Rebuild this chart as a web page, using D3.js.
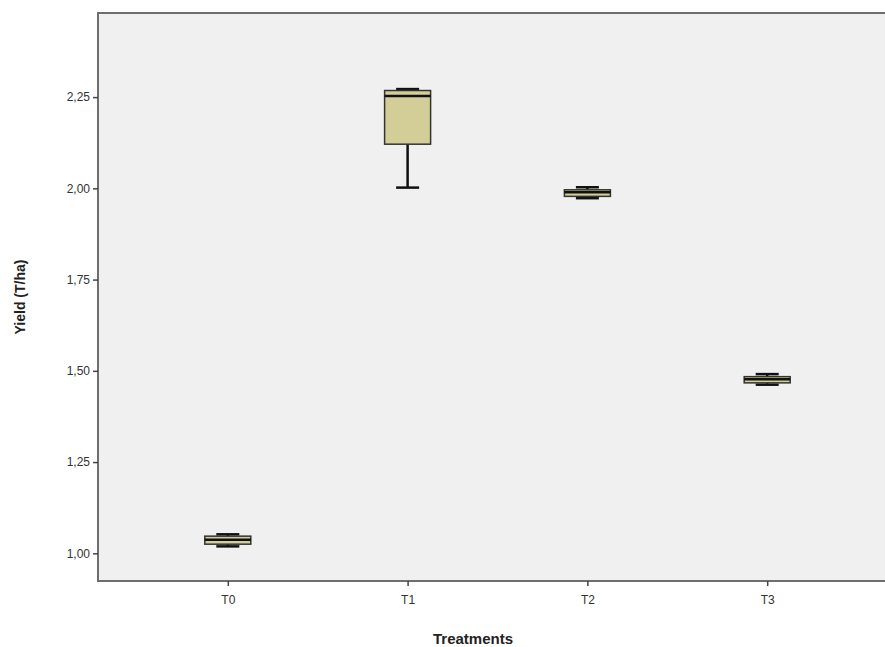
<!DOCTYPE html>
<html><head><meta charset="utf-8">
<script src="https://cdn.jsdelivr.net/npm/d3@7"></script>
<style>body{margin:0;background:#fff}svg{display:block}</style>
</head><body>
<script>
const categories = ["T0","T1","T2","T3"];
const whiskerLow  = [1.019, 2.002, 1.973, 1.462];
const q1          = [1.025, 2.121, 1.978, 1.467];
const median      = [1.037, 2.253, 1.989, 1.477];
const q3          = [1.047, 2.268, 1.996, 1.484];
const whiskerHigh = [1.052, 2.272, 2.003, 1.491];
const yTicks = [1.00, 1.25, 1.50, 1.75, 2.00, 2.25];

const W = 885, H = 647;
const pLeft = 98, pTop = 13, pBottom = 581, pRight = 897;
const svg = d3.select("body").append("svg").attr("width", W).attr("height", H);

const y = d3.scaleLinear().domain([1.00, 2.25]).range([553.3, 97.1]);
const x = d3.scalePoint().domain(categories).range([pLeft, pRight]).padding(0.722);

svg.append("rect").attr("x", pLeft).attr("y", pTop).attr("width", pRight - pLeft).attr("height", pBottom - pTop)
  .attr("fill", "#f0f0f0").attr("stroke", "#6e6e6e").attr("stroke-width", 2);

const fmt = v => d3.format(".2f")(v).replace(".", ",");
const yAxis = svg.append("g").attr("transform", `translate(${pLeft},0)`)
  .call(d3.axisLeft(y).tickValues(yTicks).tickFormat(fmt).tickSize(5).tickPadding(3));
yAxis.select(".domain").remove();
yAxis.selectAll("line").attr("stroke", "#444").attr("stroke-width", 1.5);
yAxis.selectAll("text").attr("font-family", "Arial, 'Liberation Sans', sans-serif").attr("font-size", 12).attr("fill", "#333");

const xAxis = svg.append("g").attr("transform", `translate(0,${pBottom})`)
  .call(d3.axisBottom(x).tickSize(5).tickPadding(9));
xAxis.select(".domain").remove();
xAxis.selectAll("line").attr("stroke", "#444").attr("stroke-width", 1.5);
xAxis.selectAll("text").attr("font-family", "Arial, 'Liberation Sans', sans-serif").attr("font-size", 12).attr("fill", "#333");

const boxW = 46, capW = 23;
const g = svg.append("g");
categories.forEach((c, i) => {
  const cx = x(c);
  g.append("line").attr("x1", cx).attr("x2", cx).attr("y1", y(whiskerLow[i])).attr("y2", y(q1[i]))
    .attr("stroke", "#111").attr("stroke-width", 2.5);
  g.append("line").attr("x1", cx).attr("x2", cx).attr("y1", y(whiskerHigh[i])).attr("y2", y(q3[i]))
    .attr("stroke", "#111").attr("stroke-width", 2.5);
  [whiskerLow[i], whiskerHigh[i]].forEach(v => {
    g.append("line").attr("x1", cx - capW / 2).attr("x2", cx + capW / 2).attr("y1", y(v)).attr("y2", y(v))
      .attr("stroke", "#111").attr("stroke-width", 2.5);
  });
  g.append("rect").attr("x", cx - boxW / 2).attr("y", y(q3[i])).attr("width", boxW)
    .attr("height", y(q1[i]) - y(q3[i])).attr("fill", "#d3ce97").attr("stroke", "#333").attr("stroke-width", 1.5);
  g.append("line").attr("x1", cx - boxW / 2).attr("x2", cx + boxW / 2).attr("y1", y(median[i])).attr("y2", y(median[i]))
    .attr("stroke", "#111").attr("stroke-width", 2.5);
});

svg.append("text").attr("x", 473).attr("y", 644).attr("text-anchor", "middle")
  .attr("font-family", "Arial, 'Liberation Sans', sans-serif").attr("font-size", 15).attr("font-weight", "bold")
  .attr("fill", "#222").text("Treatments");
svg.append("text").attr("transform", "translate(25,297) rotate(-90)").attr("text-anchor", "middle")
  .attr("font-family", "Arial, 'Liberation Sans', sans-serif").attr("font-size", 14).attr("font-weight", "bold")
  .attr("fill", "#222").text("Yield (T/ha)");
</script>
</body></html>
